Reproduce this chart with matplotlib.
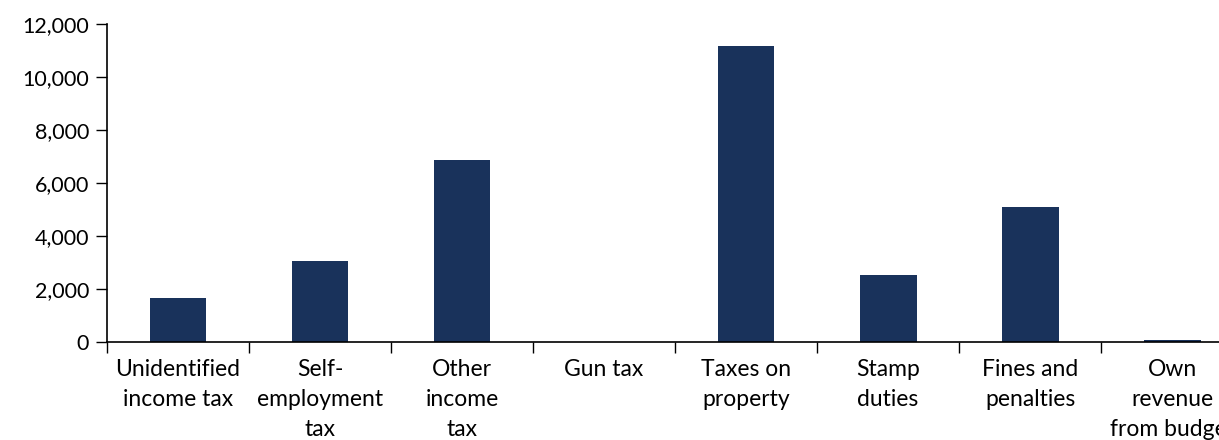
import matplotlib.pyplot as plt
import numpy as np
from matplotlib.ticker import FuncFormatter

categories = ["Unidentified\nincome tax", "Self-\nemployment\ntax", "Other\nincome\ntax",
              "Gun tax", "Taxes on\nproperty", "Stamp\nduties", "Fines and\npenalties",
              "Own\nrevenue\nfrom budget"]
values = [1660, 3060, 6870, 0, 11170, 2530, 5090, 60]

plt.rcParams['font.family'] = ['Lato', 'DejaVu Sans']

fig = plt.figure(figsize=(12.19, 4.4), dpi=100)
ax = fig.add_axes([0.0878, 0.2227, 0.932, 0.7227])

x = np.arange(len(categories))
ax.bar(x, values, width=0.4, color='#19325B')

ax.set_xlim(-0.5, len(categories) - 0.5)
ax.set_ylim(0, 12000)
ax.set_yticks(np.arange(0, 12001, 2000))
ax.yaxis.set_major_formatter(FuncFormatter(lambda v, p: f"{int(v):,}"))

ax.set_xticks(x)
ax.set_xticklabels(categories, linespacing=1.55)
ax.set_xticks(np.arange(-0.5, len(categories), 1), minor=True)
ax.tick_params(axis='x', which='major', length=0, pad=12, labelsize=16.5)
ax.tick_params(axis='x', which='minor', length=8, width=1, direction='out')
ax.tick_params(axis='y', length=8, width=1, labelsize=15.5, pad=5)

for s in ['top', 'right']:
    ax.spines[s].set_visible(False)
for s in ['left', 'bottom']:
    ax.spines[s].set_linewidth(1.2)

fig.savefig('out.png', dpi=100)
